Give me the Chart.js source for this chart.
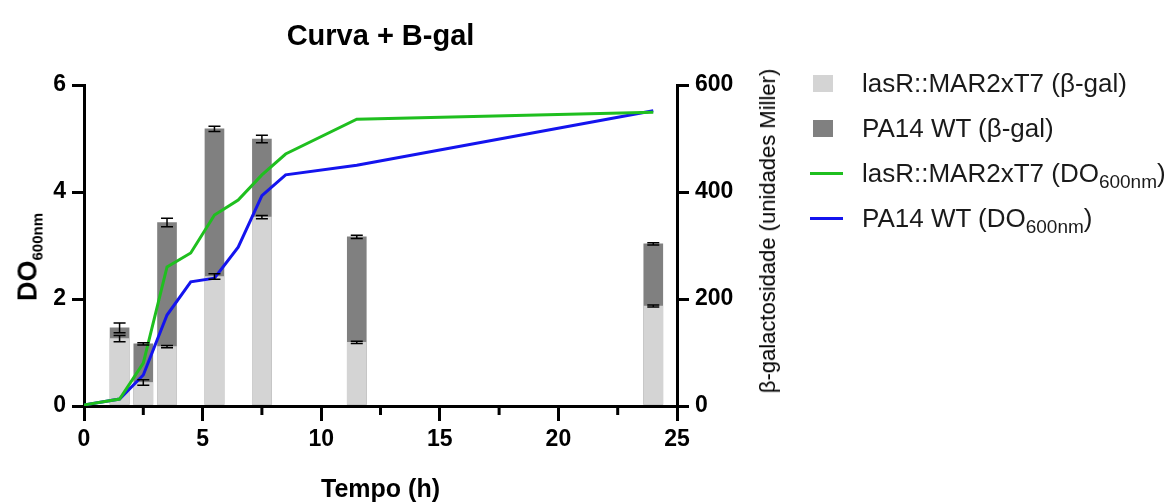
<!DOCTYPE html>
<html>
<head>
<meta charset="utf-8">
<script src="https://cdn.jsdelivr.net/npm/chart.js@4.4.1/dist/chart.umd.min.js"></script>
<style>
    body { margin: 0; background: #fff; }
    #wrap { position: relative; width: 1176px; height: 502px; font-family: 'Liberation Sans', Arial, sans-serif; color: #000; }
    #grafico { position: absolute; left: 0; top: 0; }
    .rot { position: absolute; transform: translate(-50%, -50%) rotate(-90deg); white-space: nowrap; line-height: 1; }
    #tituloEsq { left: 28px; top: 257px; font-size: 27px; font-weight: bold; }
    #tituloEsq span { font-size: 15px; position: relative; top: 6px; }
    #tituloDir { left: 768px; top: 231px; font-size: 22px; }
    #legenda { position: absolute; left: 808px; top: 61px; font-size: 26px; color: #1a1a1a; }
    .item { height: 45px; display: flex; align-items: center; white-space: nowrap; }
    .marca { width: 54px; height: 45px; position: relative; flex: none; }
    .quadrado { position: absolute; left: 5px; top: 14px; width: 20px; height: 17px; }
    .traco { position: absolute; left: 2px; top: 21px; width: 33px; height: 3px; }
    .item span.sub { font-size: 19px; position: relative; top: 8px; }
</style>
</head>
<body>
<div id="wrap">
    <canvas id="grafico" width="1176" height="502"></canvas>
    <div class="rot" id="tituloEsq">DO<span>600nm</span></div>
    <div class="rot" id="tituloDir">β-galactosidade (unidades Miller)</div>
    <div id="legenda">
        <div class="item"><div class="marca"><div class="quadrado" style="background:#d4d4d4"></div></div>lasR::MAR2xT7 (β-gal)</div>
        <div class="item"><div class="marca"><div class="quadrado" style="background:#808080"></div></div>PA14 WT (β-gal)</div>
        <div class="item"><div class="marca"><div class="traco" style="background:#1fbf1f"></div></div>lasR::MAR2xT7 (DO<span class="sub">600nm</span>)</div>
        <div class="item"><div class="marca"><div class="traco" style="background:#1414ee"></div></div>PA14 WT (DO<span class="sub">600nm</span>)</div>
    </div>
</div>
<script>
// beta-gal (unidades Miller) nas colheitas
const tempoBarras = [1.5, 2.5, 3.5, 5.5, 7.5, 11.5, 24];
const betaGalLasR = [126, 44, 111, 242, 353, 119, 187];
const erroLasR = [6, 5, 2, 5, 3, 2, 2];
const betaGalWT = [146, 116, 343, 518, 499, 316, 303];
const erroWT = [9, 2, 8, 5, 7, 3, 2];

// curvas de crescimento DO600nm
const tempoCurva = [0, 1.5, 2.5, 3.5, 4.5, 5.5, 6.5, 7.5, 8.5, 11.5, 24];
const doLasR = [0.02, 0.13, 0.80, 2.60, 2.86, 3.57, 3.85, 4.32, 4.71, 5.36, 5.49];
const doWT = [0.02, 0.13, 0.58, 1.70, 2.32, 2.39, 2.97, 3.93, 4.32, 4.50, 5.52];

const ticksX = [0, 5, 10, 15, 20, 25];
const ticksMenoresX = [2.5, 7.5, 12.5, 17.5, 22.5];

Chart.defaults.font.family = "'Liberation Sans', Arial, sans-serif";
Chart.defaults.color = '#000';

const pares = (xs, ys) => xs.map((x, i) => ({ x: x, y: ys[i] }));

// barras de erro e ticks menores do eixo x
const extras = {
    id: 'extras',
    afterDatasetsDraw(chart) {
        const ctx = chart.ctx;
        const sx = chart.scales.x, sy = chart.scales.y1;
        ctx.save();
        ctx.strokeStyle = '#000';
        ctx.lineWidth = 1.5;
        chart.data.datasets.forEach(ds => {
            if (!ds.erros) return;
            ds.data.forEach((p, j) => {
                const px = sx.getPixelForValue(p.x);
                const a = sy.getPixelForValue(p.y + ds.erros[j]);
                const b = sy.getPixelForValue(p.y - ds.erros[j]);
                ctx.beginPath();
                ctx.moveTo(px, a); ctx.lineTo(px, b);
                ctx.moveTo(px - 6, a); ctx.lineTo(px + 6, a);
                ctx.moveTo(px - 6, b); ctx.lineTo(px + 6, b);
                ctx.stroke();
            });
        });
        ctx.restore();
    },
    afterDraw(chart) {
        const ctx = chart.ctx, sx = chart.scales.x;
        const base = chart.chartArea.bottom;
        ctx.save();
        ctx.strokeStyle = '#000';
        ctx.lineWidth = 3;
        ticksMenoresX.forEach(t => {
            const px = sx.getPixelForValue(t);
            ctx.beginPath();
            ctx.moveTo(px, base);
            ctx.lineTo(px, base + 9);
            ctx.stroke();
        });
        ctx.restore();
    }
};

new Chart(document.getElementById('grafico'), {
    data: {
        datasets: [
            {
                type: 'line', label: 'lasR::MAR2xT7 (DO600nm)', data: pares(tempoCurva, doLasR),
                yAxisID: 'y', borderColor: '#1fbf1f', borderWidth: 3, pointRadius: 0, tension: 0, order: 0
            },
            {
                type: 'line', label: 'PA14 WT (DO600nm)', data: pares(tempoCurva, doWT),
                yAxisID: 'y', borderColor: '#1414ee', borderWidth: 3, pointRadius: 0, tension: 0, order: 0
            },
            {
                type: 'bar', label: 'lasR::MAR2xT7 (β-gal)', data: pares(tempoBarras, betaGalLasR), erros: erroLasR,
                yAxisID: 'y1', backgroundColor: '#d4d4d4', barThickness: 19, grouped: false, order: 1
            },
            {
                type: 'bar', label: 'PA14 WT (β-gal)', data: pares(tempoBarras, betaGalWT), erros: erroWT,
                yAxisID: 'y1', backgroundColor: '#808080', barThickness: 19, grouped: false, order: 2
            }
        ]
    },
    options: {
        responsive: false,
        animation: false,
        layout: { padding: { left: 0, right: 415, top: 0, bottom: 0 } },
        plugins: {
            legend: { display: false },
            tooltip: { enabled: false },
            title: {
                display: true,
                text: 'Curva + B-gal',
                font: { size: 29, weight: 'bold' },
                color: '#000',
                padding: { top: 20, bottom: 30.2 }
            }
        },
        scales: {
            x: {
                type: 'linear', min: 0, max: 25, offset: false,
                afterBuildTicks: s => { s.ticks = ticksX.map(v => ({ value: v })); },
                afterFit: s => { s.height = 96; },
                grid: { drawOnChartArea: false, offset: false, color: '#000', lineWidth: 3, tickLength: 15 },
                border: { color: '#000', width: 3 },
                ticks: { font: { size: 23, weight: 'bold' }, padding: 5, maxRotation: 0 },
                title: { display: true, text: 'Tempo (h)', font: { size: 25, weight: 'bold' }, padding: { top: 0, bottom: -3 } }
            },
            y: {
                position: 'left', min: 0, max: 6,
                ticks: { stepSize: 2, font: { size: 23, weight: 'bold' }, padding: 6 },
                afterFit: s => { s.width = 84; },
                grid: { drawOnChartArea: false, color: '#000', lineWidth: 3, tickLength: 12 },
                border: { color: '#000', width: 3 }
            },
            y1: {
                position: 'right', min: 0, max: 600,
                ticks: { stepSize: 200, font: { size: 23, weight: 'bold' }, padding: 6 },
                afterFit: s => { s.width = 84; },
                grid: { drawOnChartArea: false, color: '#000', lineWidth: 3, tickLength: 12 },
                border: { color: '#000', width: 3 }
            }
        }
    },
    plugins: [extras]
});
</script>
</body>
</html>
